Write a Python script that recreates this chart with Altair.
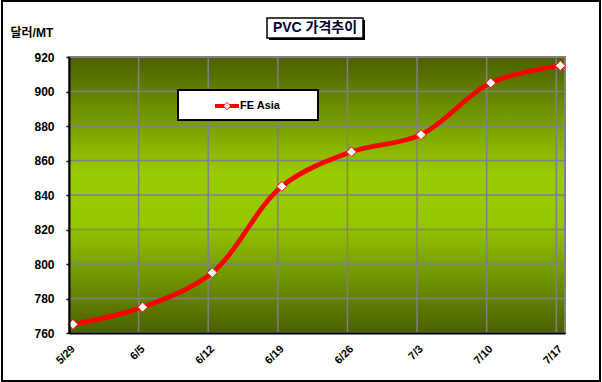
import altair as alt
import pandas as pd

# ---- data ----
labels = ["5/29", "6/5", "6/12", "6/19", "6/26", "7/3", "7/10", "7/17"]
fe_asia = [765, 775, 795, 845, 865, 875, 905, 915]
series_name = "FE Asia"
y_ticks = [760, 780, 800, 820, 840, 860, 880, 900, 920]
year = 2008

dates = [f"{year}-{int(l.split('/')[0]):02d}-{int(l.split('/')[1]):02d}" for l in labels]
df = pd.DataFrame({"date": dates, "label": labels, "value": fe_asia, "series": series_name})
grid_df = pd.DataFrame({"v": y_ticks})
one = pd.DataFrame({"a": [0]})

FONT = "Liberation Sans, Arial, Noto Sans CJK KR"
W, H = 496, 276

def dt(l, hours=0):
    m, d = l.split("/")
    return alt.DateTime(year=year, month=int(m), date=int(d), hours=hours, utc=True)

x_scale = alt.Scale(type="utc", domain=[dt(labels[0]), dt(labels[-1], 21)])
y_scale = alt.Scale(domain=[y_ticks[0], y_ticks[-1]], nice=False, zero=False)

x_axis = alt.Axis(
    values=[dt(l) for l in labels], format="%-m/%-d", grid=False, ticks=False,
    labelAngle=-45, labelAlign="right", labelBaseline="middle",
    labelFont=FONT, labelFontSize=11, labelFontWeight="bold", labelColor="black",
    labelPadding=14, labelOffset=4, domainColor="black", domainWidth=2,
    title=None, zindex=1,
)
y_axis = alt.Axis(
    values=y_ticks, grid=False, tickColor="black", tickSize=3, tickWidth=1.5,
    labelFont=FONT, labelFontSize=12, labelFontWeight="bold", labelColor="black",
    labelPadding=12, domainColor="black", domainWidth=2,
    title="달러/MT", titleAngle=0, titleX=-59, titleY=-25, titleAlign="left",
    titleBaseline="middle", titleFont=FONT, titleFontSize=12, titleFontWeight="bold",
    titleColor="black", zindex=1,
)

gradient = {
    "gradient": "linear", "x1": 0, "y1": 0, "x2": 0, "y2": 1,
    "stops": [
        {"offset": 0, "color": "#4a6000"},
        {"offset": 0.42, "color": "#99cc00"},
        {"offset": 0.6, "color": "#96c800"},
        {"offset": 1, "color": "#4a6000"},
    ],
}

bg = alt.Chart(one).mark_rect(fill=gradient, stroke="#808080", strokeWidth=2).encode(
    x=alt.value(0), x2=alt.value(W), y=alt.value(0), y2=alt.value(H)
)

hgrid = alt.Chart(grid_df).mark_rule(color="#808080", strokeWidth=1.5).encode(
    y=alt.Y("v:Q", scale=y_scale, axis=y_axis)
)
vgrid = alt.Chart(df).mark_rule(color="#808080", strokeWidth=1.5).encode(
    x=alt.X("date:T", scale=x_scale, axis=x_axis)
)

line = alt.Chart(df).mark_line(
    color="#ff0000", strokeWidth=4.8, interpolate="catmull-rom", xOffset=4
).encode(
    x=alt.X("date:T", scale=x_scale, axis=x_axis),
    y=alt.Y("value:Q", scale=y_scale, axis=y_axis),
)
points = alt.Chart(df).mark_point(
    shape="diamond", filled=True, fill="white", stroke="#ff0000", strokeWidth=1,
    size=100, opacity=1, xOffset=4
).encode(
    x=alt.X("date:T", scale=x_scale, axis=x_axis),
    y=alt.Y("value:Q", scale=y_scale, axis=y_axis),
)

# outer frame
frame = alt.Chart(one).mark_rect(fill="white", fillOpacity=0, stroke="black", strokeWidth=2).encode(
    x=alt.value(-67), x2=alt.value(531), y=alt.value(-56), y2=alt.value(324)
)

# title box
t_shadow = alt.Chart(one).mark_rect(fill="black").encode(
    x=alt.value(200), x2=alt.value(296), y=alt.value(-37), y2=alt.value(-17)
)
t_box = alt.Chart(one).mark_rect(fill="white", stroke="black", strokeWidth=1.5).encode(
    x=alt.value(198), x2=alt.value(294), y=alt.value(-39), y2=alt.value(-19)
)
t_text = alt.Chart(one).mark_text(
    text="PVC 가격추이", font=FONT, fontSize=14, fontWeight="bold", color="#000033",
    align="center", baseline="middle"
).encode(x=alt.value(246), y=alt.value(-29))

# legend
l_shadow = alt.Chart(one).mark_rect(fill="black").encode(
    x=alt.value(110), x2=alt.value(250), y=alt.value(34), y2=alt.value(64)
)
l_box = alt.Chart(one).mark_rect(fill="white", stroke="black", strokeWidth=2).encode(
    x=alt.value(109), x2=alt.value(249), y=alt.value(33), y2=alt.value(63)
)
l_line = alt.Chart(one).mark_rule(color="#ff0000", strokeWidth=4).encode(
    x=alt.value(146), x2=alt.value(170), y=alt.value(49)
)
l_pt = alt.Chart(one).mark_point(
    shape="diamond", filled=True, fill="white", stroke="#ff0000", strokeWidth=1, size=55, opacity=1
).encode(x=alt.value(158), y=alt.value(49))
l_text = alt.Chart(pd.DataFrame({"s": [series_name]})).mark_text(
    font=FONT, fontSize=11, fontWeight="bold", color="black", align="left", baseline="middle"
).encode(x=alt.value(171), y=alt.value(49), text="s:N")

chart = alt.layer(
    bg, hgrid, vgrid, line, points, frame, t_shadow, t_box, t_text,
    l_shadow, l_box, l_line, l_pt, l_text
).properties(
    width=W, height=H,
    padding={"left": 69, "top": 57, "right": 37, "bottom": 49},
    autosize=alt.AutoSizeParams(type="none"),
    background="white",
).configure_view(stroke=None)

chart.save("out.html", embed_options={"renderer": "svg", "actions": False})
